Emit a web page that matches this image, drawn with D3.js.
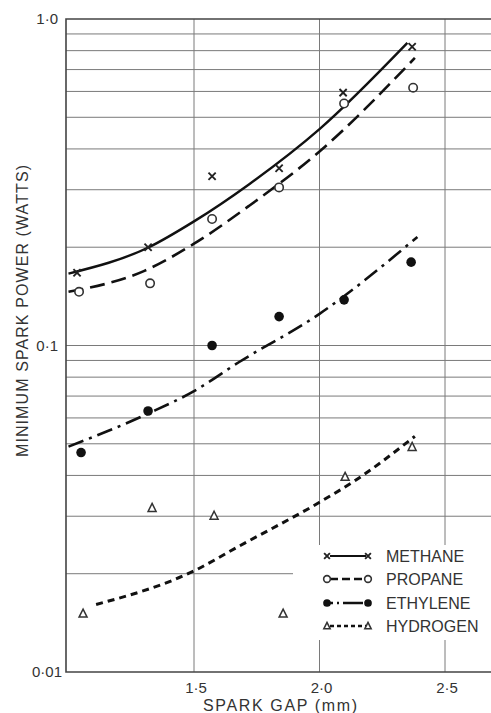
<!DOCTYPE html>
<html>
<head>
<meta charset="utf-8">
<script src="https://cdn.jsdelivr.net/npm/d3@7"></script>
<style>
  body { margin: 0; background: #fff; }
  text { font-family: "Liberation Sans", Arial, sans-serif; fill: #333; }
</style>
</head>
<body>
<div id="chart"></div>
<script>
// measured points (spark gap in mm, minimum spark power in watts)
const methaneGap  = [1.034, 1.317, 1.572, 1.839, 2.094, 2.369];
const methanePow  = [0.167, 0.200, 0.330, 0.349, 0.595, 0.822];
const propaneGap  = [1.042, 1.325, 1.572, 1.839, 2.098, 2.373];
const propanePow  = [0.146, 0.155, 0.244, 0.305, 0.551, 0.616];
const ethyleneGap = [1.050, 1.317, 1.572, 1.839, 2.098, 2.365];
const ethylenePow = [0.047, 0.063, 0.100, 0.1226, 0.138, 0.180];
const hydrogenGap = [1.058, 1.333, 1.580, 1.855, 2.102, 2.369];
const hydrogenPow = [0.0151, 0.0318, 0.0301, 0.0151, 0.0396, 0.0489];

// fitted curves as drawn on the chart
const methaneFit  = [[1.0, 0.166], [1.32, 0.200], [1.5, 0.240], [1.72, 0.312], [2.0, 0.460], [2.35, 0.845]];
const propaneFit  = [[1.0, 0.146], [1.30, 0.169], [1.5, 0.205], [1.72, 0.268], [2.0, 0.393], [2.38, 0.760]];
const ethyleneFit = [[1.0, 0.049], [1.32, 0.062], [1.5, 0.0725], [1.68, 0.089], [2.0, 0.125], [2.39, 0.215]];
const hydrogenFit = [[1.11, 0.0161], [1.5, 0.0204], [1.68, 0.0243], [2.0, 0.0331], [2.14, 0.0385], [2.38, 0.0527]];

const xTicks = [1.5, 2.0, 2.5];
const yTicks = [0.01, 0.1, 1.0];
const yGrid = [0.02, 0.03, 0.04, 0.05, 0.06, 0.07, 0.08, 0.09, 0.1,
               0.2, 0.3, 0.4, 0.5, 0.6, 0.7, 0.8, 0.9];
const seriesNames = ["METHANE", "PROPANE", "ETHYLENE", "HYDROGEN"];

const width = 491, height = 713;
const svg = d3.select('#chart')
  .append('svg')
    .attr('width', width)
    .attr('height', height);

const x = d3.scaleLinear().domain([0.99, 2.69]).range([66, 492.7]);
const y = d3.scaleLog().domain([0.01, 1.0]).range([672, 19]);

const fmt = d => d3.format(d < 0.1 ? '.2f' : '.1f')(d).replace('.', '\u00b7');

// grid
svg.append('g')
  .selectAll('line')
  .data(yGrid)
  .enter()
  .append('line')
    .attr('x1', x.range()[0]).attr('x2', width)
    .attr('y1', d => y(d)).attr('y2', d => y(d))
    .attr('stroke', '#7a7a7a').attr('stroke-width', 1);

svg.append('g')
  .selectAll('line')
  .data(xTicks)
  .enter()
  .append('line')
    .attr('x1', d => x(d)).attr('x2', d => x(d))
    .attr('y1', y(1.0)).attr('y2', y(0.01))
    .attr('stroke', '#7a7a7a').attr('stroke-width', 1);

// legend area cut out of the grid
svg.append('rect')
  .attr('x', 293).attr('y', 545)
  .attr('width', width - 293).attr('height', 95)
  .attr('fill', '#fff');

// frame (left, top, bottom)
svg.append('path')
  .attr('d', `M${width},${y(1.0)}H${x.range()[0]}V${y(0.01)}H${width}`)
  .attr('fill', 'none')
  .attr('stroke', '#444')
  .attr('stroke-width', 1.6);

// tick labels
svg.append('g')
  .selectAll('text')
  .data(yTicks)
  .enter()
  .append('text')
    .attr('x', d => d < 0.1 ? 62 : 58)
    .attr('y', d => y(d) + 5)
    .attr('text-anchor', 'end')
    .style('font-size', '15px')
    .text(fmt);

svg.append('g')
  .selectAll('text')
  .data(xTicks)
  .enter()
  .append('text')
    .attr('x', d => x(d) + 2)
    .attr('y', 693)
    .attr('text-anchor', 'middle')
    .style('font-size', '15px')
    .text(fmt);

svg.append('text')
  .attr('x', 203).attr('y', 711)
  .attr('textLength', 154)
  .attr('lengthAdjust', 'spacing')
  .style('font-size', '16px')
  .text('SPARK GAP (mm)');

svg.append('text')
  .attr('transform', 'translate(28,457) rotate(-90)')
  .attr('textLength', 292)
  .attr('lengthAdjust', 'spacing')
  .style('font-size', '16px')
  .text('MINIMUM SPARK POWER (WATTS)');

// curves
const line = d3.line()
  .x(d => x(d[0]))
  .y(d => y(d[1]))
  .curve(d3.curveMonotoneX);

const styles = [
  { fit: methaneFit,  dash: null,          w: 2.4 },
  { fit: propaneFit,  dash: '15 7',        w: 2.6 },
  { fit: ethyleneFit, dash: '16 6 3 6',    w: 2.6 },
  { fit: hydrogenFit, dash: '7 5',         w: 3 }
];

styles.forEach(s => {
  svg.append('path')
    .attr('d', line(s.fit))
    .attr('fill', 'none')
    .attr('stroke', '#111')
    .attr('stroke-width', s.w)
    .attr('stroke-dasharray', s.dash);
});

// markers
function marker(g, kind, cx, cy, sc) {
  sc = sc || 1;
  if (kind === 0) {
    const r = 3.6 * sc;
    g.append('path')
      .attr('d', `M${cx-r},${cy-r}L${cx+r},${cy+r}M${cx-r},${cy+r}L${cx+r},${cy-r}`)
      .attr('stroke', '#222').attr('stroke-width', 1.9).attr('fill', 'none');
  } else if (kind === 1) {
    g.append('circle').attr('cx', cx).attr('cy', cy).attr('r', 4.2 * sc)
      .attr('fill', '#fff').attr('stroke', '#333').attr('stroke-width', 1.6);
  } else if (kind === 2) {
    g.append('circle').attr('cx', cx).attr('cy', cy).attr('r', 4.8 * sc)
      .attr('fill', '#111');
  } else {
    const r = sc;
    g.append('path')
      .attr('d', `M${cx},${cy-4.5*r}L${cx+4*r},${cy+3.5*r}L${cx-4*r},${cy+3.5*r}Z`)
      .attr('fill', '#fff').attr('stroke', '#333').attr('stroke-width', 1.5);
  }
}

const pts = [
  [methaneGap, methanePow],
  [propaneGap, propanePow],
  [ethyleneGap, ethylenePow],
  [hydrogenGap, hydrogenPow]
];
const markG = svg.append('g');
pts.forEach((p, k) => {
  p[0].forEach((g, i) => marker(markG, k, x(g), y(p[1][i])));
});

// legend
const legendY = [556, 579, 603, 626];
const leg = svg.append('g');
seriesNames.forEach((name, k) => {
  const ly = legendY[k];
  leg.append('line')
    .attr('x1', 330).attr('x2', 366)
    .attr('y1', ly).attr('y2', ly)
    .attr('stroke', '#111')
    .attr('stroke-width', k === 0 ? 2 : 2.6)
    .attr('stroke-dasharray', k === 0 ? null : (k === 1 ? '8 4' : (k === 2 ? '3 4 2 4 20' : '4 3')));
  marker(leg, k, 327, ly, 0.8);
  marker(leg, k, 368, ly, 0.8);
  leg.append('text')
    .attr('x', 386).attr('y', ly + 6)
    .style('font-size', '16px')
    .text(name);
});
</script>
</body>
</html>
